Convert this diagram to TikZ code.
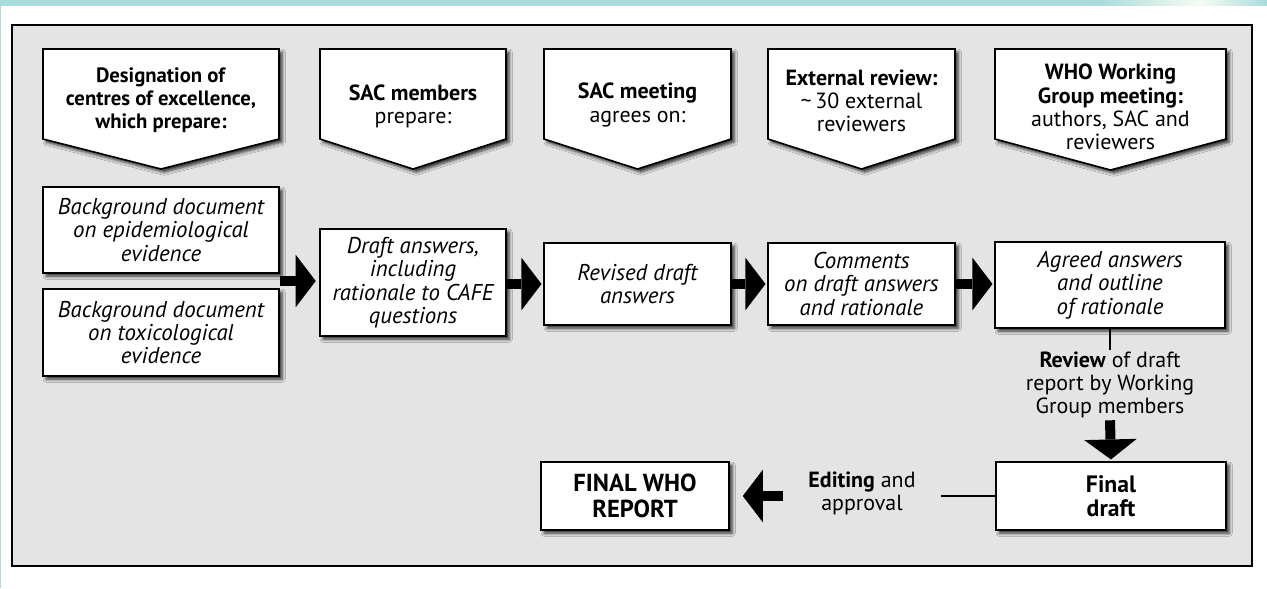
\documentclass[tikz,border=0pt]{standalone}
\usepackage{fontspec}
\setmainfont{PT Sans}
\usetikzlibrary{arrows.meta,shadows.blur,calc}

\definecolor{framegray}{HTML}{E4E4E4}
\definecolor{stripcyan}{HTML}{A9DCDC}
\definecolor{stripfade}{HTML}{F6FCF2}

\newcommand{\boxfont}{\fontsize{13}{13.3}\selectfont}
\newcommand{\hdrfont}{\fontsize{12.5}{13.2}\selectfont}

\tikzset{
  boxshadow/.style={blur shadow={shadow xshift=1.8pt, shadow yshift=-1.8pt,
      shadow blur radius=1.8pt, shadow opacity=80}},
  docbox/.style={draw=black, line width=0.9pt, fill=white, align=center,
      inner sep=1pt, font=\boxfont\itshape, boxshadow},
  finalbox/.style={docbox, font=\fontsize{13.5}{13.5}\selectfont\bfseries},
  reportbox/.style={docbox, font=\fontsize{14}{14.6}\selectfont\bfseries},
  hdrshape/.style={draw=black, line width=0.9pt, fill=white, boxshadow},
  hdrtext/.style={align=center, font=\hdrfont, inner sep=0pt},
  note/.style={align=center, font=\hdrfont, inner sep=1pt},
  blockarrow/.style={line width=0.2cm,
      -{Triangle[width=1.05cm, length=0.4cm, line width=0pt, fill=black]}},
  thinline/.style={line width=0.8pt}
}

\begin{document}
\begin{tikzpicture}[x=0.02cm, y=-0.02cm]

  \useasboundingbox (0,0) rectangle (1267,588);

  % Streifen oben und links
  \fill[stripcyan] (0,0) rectangle (1100,6);
  \shade[left color=stripcyan, right color=stripfade] (1100,0) rectangle (1200,6);
  \shade[left color=stripfade, right color=stripcyan] (1200,0) rectangle (1267,6);
  \fill[stripcyan] (0,0) rectangle (1.5,588);

  % Rahmen
  \draw[fill=framegray, line width=1.1pt] (12,25) rectangle (1252,566);

  % Kopfzeilen (Pfeilformen)
  \draw[hdrshape] (43,49) -- (279,49) -- (279,139) -- (161,169) -- (43,139) -- cycle;
  \node[hdrtext, font=\fontsize{11.8}{13.2}\selectfont] (h1) at (161,100)
    {\textbf{Designation of}\\ \textbf{centres of excellence,}\\ \textbf{which prepare:}};

  \draw[hdrshape] (320,49) -- (506,49) -- (506,139) -- (413,169) -- (320,139) -- cycle;
  \node[hdrtext] (h2) at (413,106) {\textbf{SAC members}\\ prepare:};

  \draw[hdrshape] (544,49) -- (731,49) -- (731,139) -- (637.5,169) -- (544,139) -- cycle;
  \node[hdrtext] (h3) at (637.5,105) {\textbf{SAC meeting}\\ agrees on:};

  \draw[hdrshape] (768,49) -- (955,49) -- (955,139) -- (861.5,169) -- (768,139) -- cycle;
  \node[hdrtext] (h4) at (861.5,101) {\textbf{External review:}\\ \textasciitilde\,30 external\\ reviewers};

  \draw[hdrshape] (995,49) -- (1226,49) -- (1226,139) -- (1110.5,170) -- (995,139) -- cycle;
  \node[hdrtext] (h5) at (1110.5,107) {\textbf{WHO Working}\\ \textbf{Group meeting:}\\ authors, SAC and\\ reviewers};

  % Dokumente
  \node[docbox, minimum width=4.72cm, minimum height=1.72cm] (epi) at (161,230)
    {Background document\\ on epidemiological\\ evidence};
  \node[docbox, minimum width=4.72cm, minimum height=1.74cm] (tox) at (161,332.5)
    {Background document\\ on toxicological\\ evidence};
  \node[docbox, minimum width=3.72cm, minimum height=2.14cm] (draft) at (413,282.5)
    {Draft answers,\\ including\\ rationale to CAFE\\ questions};
  \node[docbox, minimum width=3.74cm, minimum height=1.64cm] (revised) at (637.5,284)
    {Revised draft\\ answers};
  \node[docbox, minimum width=3.74cm, minimum height=1.64cm] (comments) at (861.5,284)
    {Comments\\ on draft answers\\ and rationale};
  \node[docbox, minimum width=4.6cm, minimum height=1.72cm] (agreed) at (1110,285)
    {Agreed answers\\ and outline\\ of rationale};
  \node[finalbox, minimum width=4.6cm, minimum height=1.36cm] (final) at (1111,496)
    {Final\\ draft};
  \node[reportbox, minimum width=3.76cm, minimum height=1.36cm] (report) at (635,496)
    {FINAL WHO\\ REPORT};

  % Zwischentexte
  \node[note] (review) at (1110,385) {\textbf{Review} of draft\\ report by Working\\ Group members};
  \node[note, inner xsep=0.5cm] (editing) at (862,493) {\textbf{Editing} and\\ approval};

  % Pfeile
  \coordinate (bg) at ($(epi.south east)!0.5!(tox.north east)$);
  \draw[blockarrow, shorten >=2pt] (bg) -- (draft.west |- bg);
  \draw[blockarrow, shorten >=1pt] (draft.east |- revised) -- (revised.west);
  \draw[blockarrow, shorten >=1pt] (revised.east) -- (comments.west);
  \draw[blockarrow, shorten >=1pt] (comments.east) -- (agreed.west |- comments);
  \draw[thinline] (agreed.south) -- (review.north);
  \draw[blockarrow, shorten >=1pt] (review.south) -- (final.north);
  \draw[thinline] (final.west) -- (editing.east |- final.west);
  \draw[blockarrow, shorten >=0.26cm] (editing.west |- final.west) -- (report.east);

\end{tikzpicture}
\end{document}
